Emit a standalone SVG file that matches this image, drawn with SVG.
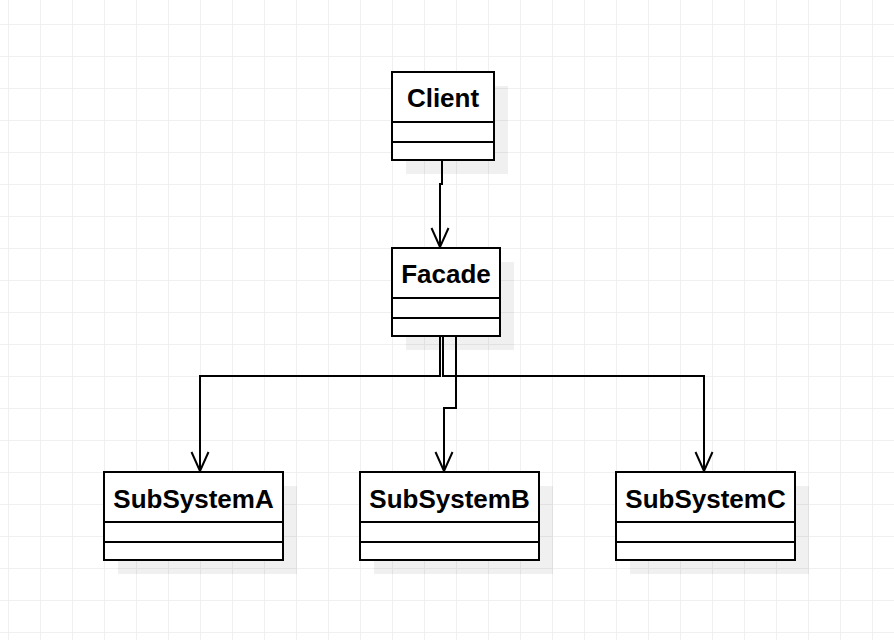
<svg xmlns="http://www.w3.org/2000/svg" width="894" height="640" viewBox="0 0 894 640">
<defs>
<pattern id="grid" x="8" y="24" width="32" height="32" patternUnits="userSpaceOnUse">
<path d="M0 0H32M0 0V32" fill="none" stroke="#ececec" stroke-width="1.5"/>
</pattern>
<style>
.box{fill:#fff;stroke:#000;stroke-width:2}
.sh{fill:#000;opacity:0.06}
.div{stroke:#000;stroke-width:2}
.lbl{font-family:"Liberation Sans",Arial,sans-serif;font-weight:bold;font-size:26px;text-anchor:middle;fill:#000}
.conn{fill:none;stroke:#000;stroke-width:2}
.ah{fill:none;stroke:#000;stroke-width:2}
</style>
</defs>
<rect width="894" height="640" fill="#fff"/>
<rect width="894" height="640" fill="url(#grid)"/>
<g id="connectors">
<path class="conn" d="M442 160V184H440V247"/>
<path class="ah" d="M431.5 228L440 247L448.5 228"/>
<path class="conn" d="M440 336V376H200V471"/>
<path class="ah" d="M191.5 452L200 471L208.5 452"/>
<path class="conn" d="M443 336V376H704V471"/>
<path class="ah" d="M695.5 452L704 471L712.5 452"/>
<path class="conn" d="M456 336V408H444V471"/>
<path class="ah" d="M435.5 452L444 471L452.5 452"/>
</g>
<g id="client">
<rect class="sh" x="406" y="86" width="102" height="88"/>
<rect class="box" x="392" y="72" width="102" height="88"/>
<line class="div" x1="392" y1="122" x2="494" y2="122"/>
<line class="div" x1="392" y1="142" x2="494" y2="142"/>
<text class="lbl" x="443" y="106.5">Client</text>
</g>
<g id="facade">
<rect class="sh" x="406" y="262" width="108" height="88"/>
<rect class="box" x="392" y="248" width="108" height="88"/>
<line class="div" x1="392" y1="298" x2="500" y2="298"/>
<line class="div" x1="392" y1="318" x2="500" y2="318"/>
<text class="lbl" x="446" y="282.5">Facade</text>
</g>
<g id="subsystemA">
<rect class="sh" x="118" y="486" width="179" height="88"/>
<rect class="box" x="104" y="472" width="179" height="88"/>
<line class="div" x1="104" y1="522" x2="283" y2="522"/>
<line class="div" x1="104" y1="542" x2="283" y2="542"/>
<text class="lbl" x="193.5" y="507.5">SubSystemA</text>
</g>
<g id="subsystemB">
<rect class="sh" x="374" y="486" width="179" height="88"/>
<rect class="box" x="360" y="472" width="179" height="88"/>
<line class="div" x1="360" y1="522" x2="539" y2="522"/>
<line class="div" x1="360" y1="542" x2="539" y2="542"/>
<text class="lbl" x="449.5" y="507.5">SubSystemB</text>
</g>
<g id="subsystemC">
<rect class="sh" x="630" y="486" width="179" height="88"/>
<rect class="box" x="616" y="472" width="179" height="88"/>
<line class="div" x1="616" y1="522" x2="795" y2="522"/>
<line class="div" x1="616" y1="542" x2="795" y2="542"/>
<text class="lbl" x="705.5" y="507.5">SubSystemC</text>
</g>
</svg>
